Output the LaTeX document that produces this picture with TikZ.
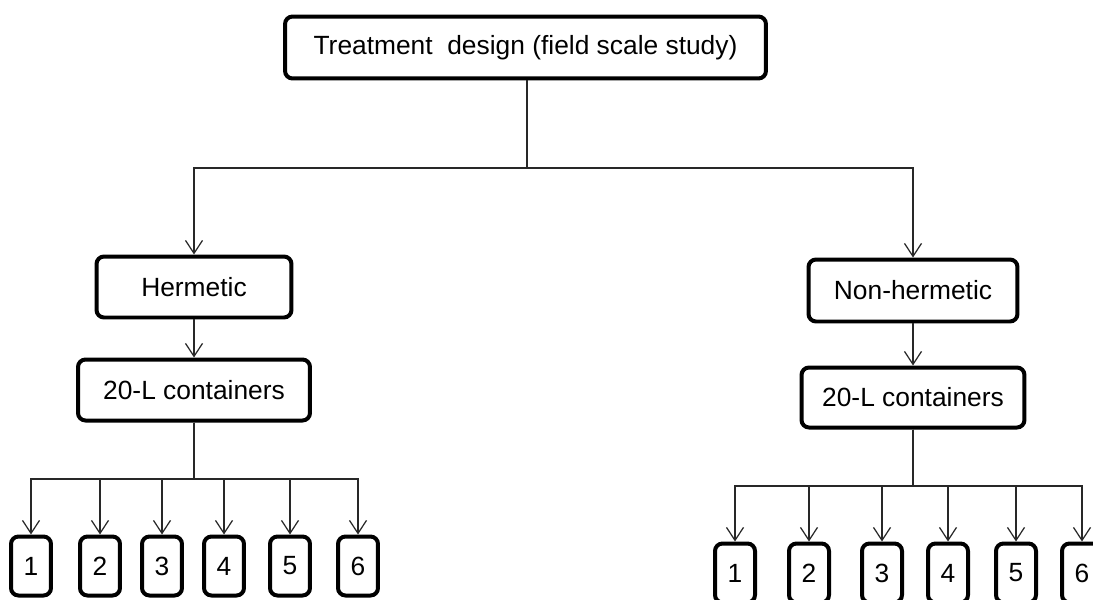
\documentclass[tikz,border=0pt]{standalone}
\usepackage{fontspec}
\setmainfont{Liberation Sans}
\usetikzlibrary{arrows.meta}
\definecolor{lineblack}{RGB}{40,40,40}

\begin{document}
\begin{tikzpicture}[x=0.02cm,y=-0.02cm,
  box/.style={draw=black,line width=0.08cm,rounded corners=0.15cm,inner sep=0pt,
    font=\fontsize{15}{17}\selectfont},
  numbox/.style={box,minimum width=0.8cm,minimum height=1.18cm},
  arr/.style={draw=lineblack,line width=0.7pt,-{Straight Barb[length=0.26cm,width=0.34cm]}}]
\useasboundingbox (0,0) rectangle (1093,599);

% Top level
\node[box,minimum width=9.62cm,minimum height=1.24cm] (top) at (525.5,47.5) {Treatment\ \ design (field scale study)\hspace{0.4cm}};
\coordinate (split) at (527,168);

% Hermetic branch
\node[box,minimum width=3.9cm,minimum height=1.22cm] (herm) at (194,287) {Hermetic};
\node[box,minimum width=4.64cm,minimum height=1.22cm] (lcont) at (194,390) {20-L containers};
\coordinate (lsplit) at (194,479);

% Non-hermetic branch
\node[box,minimum width=4.18cm,minimum height=1.24cm] (nherm) at (913,290.5) {Non-hermetic};
\node[box,minimum width=4.46cm,minimum height=1.2cm] (rcont) at (913,397.5) {20-L containers};
\coordinate (rsplit) at (913,486);

\draw[arr] (top.south -| split) -- (split) -| (herm.north);
\draw[arr] (split) -| (nherm.north);
\draw[arr] (herm) -- (lcont);
\draw[arr] (nherm) -- (rcont);

% Replicates
\foreach \i/\x in {1/31,2/100,3/162,4/224,5/290,6/358}{
  \node[numbox] (l\i) at (\x,566) {\i};
  \draw[arr] (lcont.south) -- (lsplit) -| (l\i.north);
}
\foreach \i/\x in {1/735,2/809,3/882,4/948,5/1016,6/1082}{
  \node[numbox] (r\i) at (\x,573) {\i};
  \draw[arr] (rcont.south) -- (rsplit) -| (r\i.north);
}
\end{tikzpicture}
\end{document}
